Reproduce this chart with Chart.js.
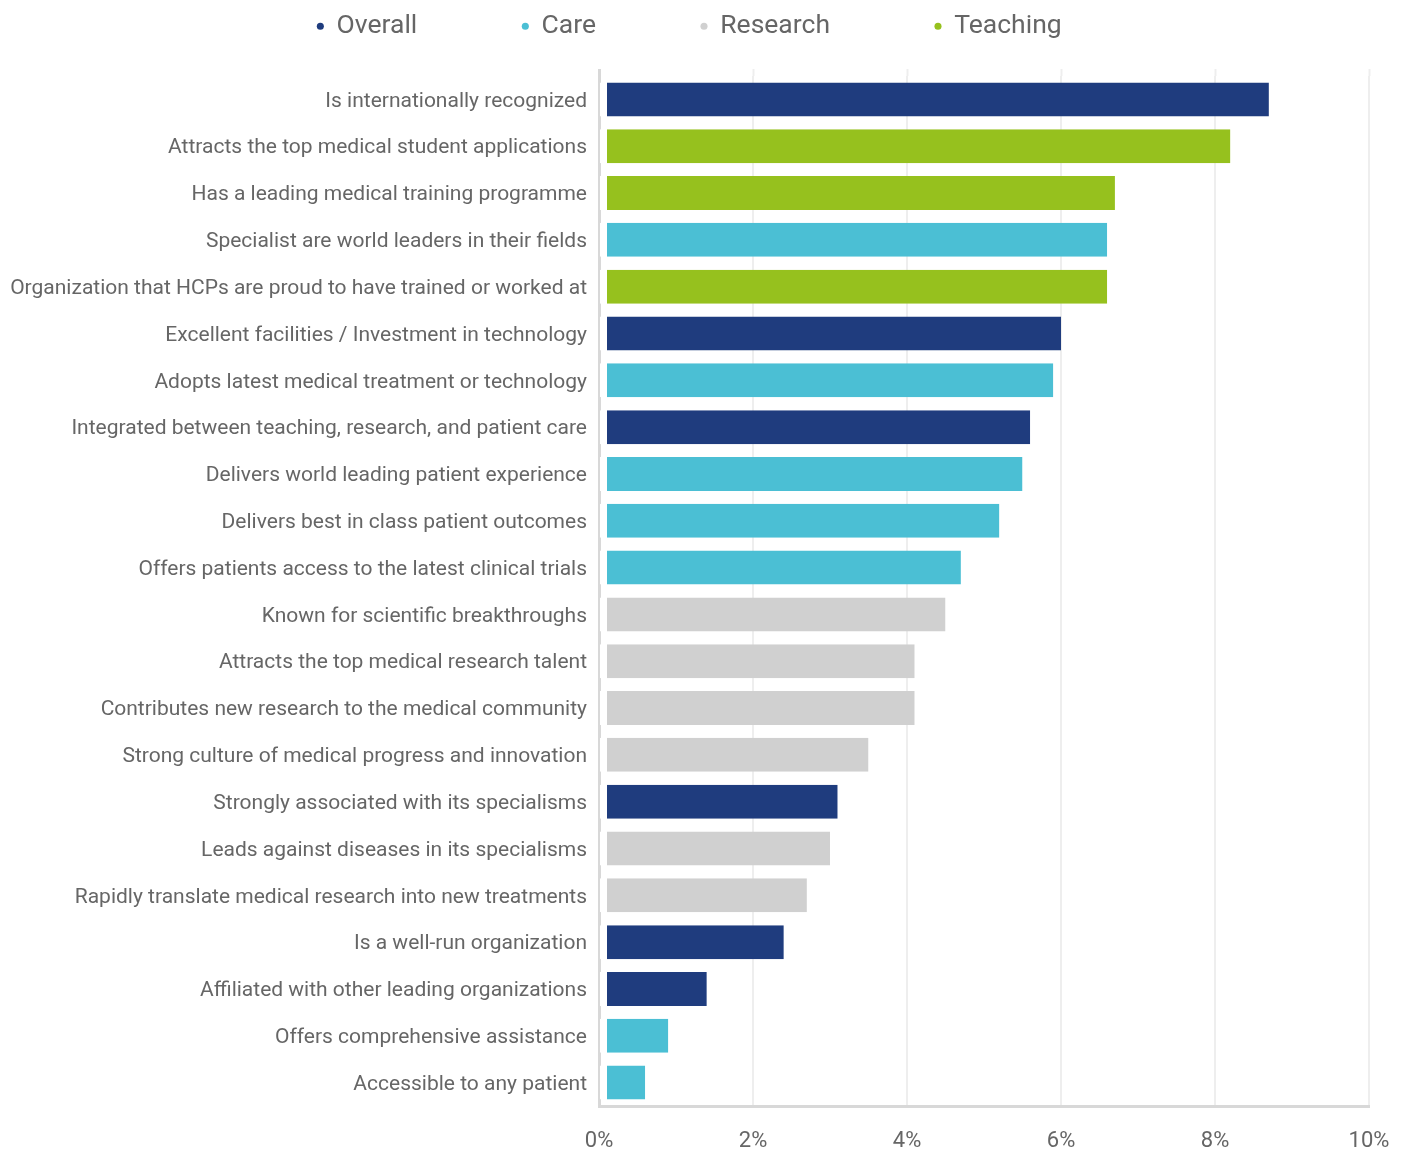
<!DOCTYPE html>
<html>
<head>
<meta charset="utf-8">
<title>Reputation drivers</title>
<script src="https://cdn.jsdelivr.net/npm/chart.js@4/dist/chart.umd.min.js"></script>
<style>
  html, body { margin: 0; padding: 0; background: #ffffff; }
  #wrap { position: relative; width: 1407px; height: 1149px; }
</style>
</head>
<body>
<div id="wrap"><canvas id="chart"></canvas></div>
<script>
// Attributes, in display order (top to bottom)
const categories = [
  'Is internationally recognized',
  'Attracts the top medical student applications',
  'Has a leading medical training programme',
  'Specialist are world leaders in their fields',
  'Organization that HCPs are proud to have trained or worked at',
  'Excellent facilities / Investment in technology',
  'Adopts latest medical treatment or technology',
  'Integrated between teaching, research, and patient care',
  'Delivers world leading patient experience',
  'Delivers best in class patient outcomes',
  'Offers patients access to the latest clinical trials',
  'Known for scientific breakthroughs',
  'Attracts the top medical research talent',
  'Contributes new research to the medical community',
  'Strong culture of medical progress and innovation',
  'Strongly associated with its specialisms',
  'Leads against diseases in its specialisms',
  'Rapidly translate medical research into new treatments',
  'Is a well-run organization',
  'Affiliated with other leading organizations',
  'Offers comprehensive assistance',
  'Accessible to any patient'
];

// Share of mentions (%)
const values = [8.7, 8.2, 6.7, 6.6, 6.6, 6.0, 5.9, 5.6, 5.5, 5.2, 4.7, 4.5, 4.1, 4.1, 3.5, 3.1, 3.0, 2.7, 2.4, 1.4, 0.9, 0.6];

// Pillar each attribute belongs to
const groups = [
  'Overall', 'Teaching', 'Teaching', 'Care', 'Teaching', 'Overall', 'Care', 'Overall',
  'Care', 'Care', 'Care', 'Research', 'Research', 'Research', 'Research', 'Overall',
  'Research', 'Research', 'Overall', 'Overall', 'Care', 'Care'
];

const seriesNames = ['Overall', 'Care', 'Research', 'Teaching'];
const seriesColors = ['#1f3c7e', '#4bbfd4', '#d0d0d0', '#96c11e'];

const xTicks = [0, 2, 4, 6, 8, 10];

const TEXT = '#666666';
const AXIS = '#d8d8d8';
const GRID = '#eeeeee';

// One dataset per pillar; rows of other pillars stay empty
const datasets = seriesNames.map((name, s) => ({
  label: name,
  data: values.map((v, i) => (groups[i] === name ? v : null)),
  backgroundColor: seriesColors[s],
  borderColor: '#ffffff',
  borderWidth: { left: 7, right: 0, top: 0, bottom: 0 },
  borderSkipped: false,
  inflateAmount: 0
}));

// Keeps the legend strip at a fixed height
const legendHeight = {
  id: 'legendHeight',
  beforeLayout(chart, args, opts) {
    const lg = chart.legend;
    if (lg && !lg._fixedHeight) {
      const fit = lg.fit;
      lg.fit = function () { fit.call(this); this.height = opts.height; };
      lg._fixedHeight = true;
    }
  }
};

// Nudges the category labels down so they sit on the bar centre line
const labelNudge = {
  id: 'labelNudge',
  afterLayout(chart, args, opts) {
    const sc = chart.scales.y;
    if (sc && !sc._nudged && typeof sc._computeLabelItems === 'function') {
      const compute = sc._computeLabelItems;
      sc._computeLabelItems = function (area) {
        const items = compute.call(this, area);
        items.forEach(it => {
          if (it && it.options && Array.isArray(it.options.translation)) {
            it.options.translation = [it.options.translation[0], it.options.translation[1] + opts.dy];
          }
        });
        return items;
      };
      sc._nudged = true;
      sc._labelItems = null;
    }
  }
};

Chart.defaults.font.family = 'Roboto, "Noto Sans", sans-serif';
Chart.defaults.color = TEXT;

new Chart(document.getElementById('chart'), {
  type: 'bar',
  data: { labels: categories, datasets },
  plugins: [legendHeight, labelNudge],
  options: {
    indexAxis: 'y',
    responsive: true,
    maintainAspectRatio: false,
    animation: false,
    grouped: false,
    barPercentage: 0.726,
    categoryPercentage: 1,
    layout: { padding: { top: -92, left: 10, right: 38, bottom: -27 } },
    plugins: {
      legendHeight: { height: 161 },
      labelNudge: { dy: 2 },
      tooltip: { enabled: false },
      legend: {
        position: 'top',
        align: 'center',
        labels: {
          usePointStyle: true,
          pointStyle: 'circle',
          boxWidth: 6,
          boxHeight: 5,
          padding: 105,
          color: TEXT,
          font: { size: 26.5 },
          generateLabels(chart) {
            return Chart.defaults.plugins.legend.labels.generateLabels(chart)
              .map(it => Object.assign(it, { lineWidth: 0, strokeStyle: it.fillStyle }));
          }
        }
      }
    },
    scales: {
      x: {
        type: 'linear',
        position: 'bottom',
        min: xTicks[0],
        max: xTicks[xTicks.length - 1],
        afterBuildTicks(scale) { scale.ticks = xTicks.map(v => ({ value: v })); },
        ticks: {
          callback: v => v + '%',
          color: TEXT,
          padding: 0,
          font: { size: 22, lineHeight: '70px' }
        },
        grid: { color: GRID, lineWidth: 2, drawTicks: false },
        border: { display: true, color: AXIS, width: 3 }
      },
      x2: {
        type: 'linear',
        axis: 'x',
        position: 'top',
        min: xTicks[0],
        max: xTicks[xTicks.length - 1],
        afterBuildTicks(scale) { scale.ticks = xTicks.map(v => ({ value: v })); },
        ticks: { display: false },
        grid: {
          drawOnChartArea: false,
          drawTicks: true,
          tickLength: 7,
          tickColor: ctx => (ctx.index === 0 ? AXIS : GRID),
          tickWidth: ctx => (ctx.index === 0 ? 3 : 2)
        },
        border: { display: false }
      },
      y: {
        type: 'category',
        afterFit(scale) { scale.width = 589; },
        ticks: {
          color: TEXT,
          padding: 12,
          autoSkip: false,
          font: { size: 21 }
        },
        grid: { display: false, drawTicks: false },
        border: { display: true, color: AXIS, width: 3 }
      }
    }
  }
});
</script>
</body>
</html>
